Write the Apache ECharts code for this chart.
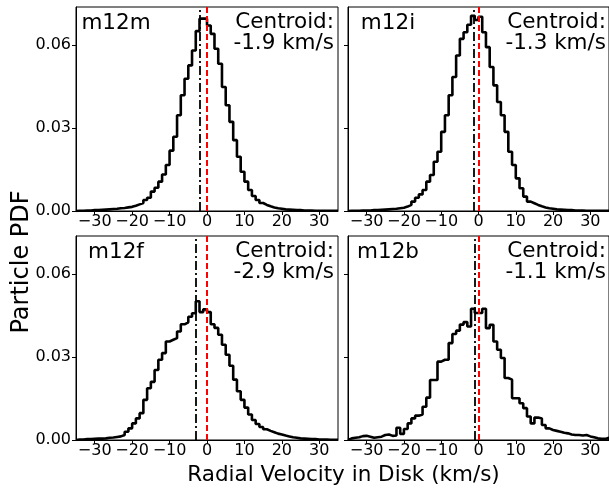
<!DOCTYPE html>
<html>
<head>
<meta charset="utf-8">
<script src="https://cdn.jsdelivr.net/npm/echarts@6/dist/echarts.min.js"></script>
<style>
html,body{margin:0;padding:0;background:#fff;}
#chart{width:609px;height:489px;}
</style>
</head>
<body>
<div id="chart"></div>
<script>
// ---------------- data ----------------
const binEdges = [-35,-34,-33,-32,-31,-30,-29,-28,-27,-26,-25,-24,-23,-22,-21,-20,-19,-18,-17,-16,-15,-14,-13,-12,-11,-10,-9,-8,-7,-6,-5,-4,-3,-2,-1,0,1,2,3,4,5,6,7,8,9,10,11,12,13,14,15,16,17,18,19,20,21,22,23,24,25,26,27,28,29,30,31,32,33,34,35];

const panelNames = ['m12m','m12i','m12f','m12b'];
const centroids = [-1.9, -1.3, -2.9, -1.1];
const xTicks = [-30,-20,-10,0,10,20,30];
const yTicks = [0, 0.03, 0.06];

const pdf_m12m = [0.0001,0.0001,0.0002,0.0002,0.0003,0.0003,0.0004,0.0005,0.0006,0.0007,0.0008,0.0010,0.0011,0.0013,0.0015,0.0019,0.0024,0.0029,0.0040,0.0048,0.0070,0.0084,0.0106,0.0132,0.0166,0.0218,0.0268,0.0346,0.0418,0.0478,0.0526,0.0580,0.0650,0.0695,0.0695,
0.0670,0.0640,0.0586,0.0532,0.0448,0.0382,0.0322,0.0256,0.0196,0.0142,0.0106,0.0076,0.0054,0.0040,0.0029,0.0022,0.0017,0.0013,0.0010,0.0008,0.0006,0.0005,0.0004,0.0003,0.0003,0.0002,0.0002,0.0002,0.0001,0.0001,0.0001,0.0001,0.0001,0.0001,0.0001];

const pdf_m12i = [0.0001,0.0001,0.0001,0.0002,0.0002,0.0002,0.0003,0.0003,0.0004,0.0005,0.0006,0.0007,0.0008,0.0010,0.0012,0.0016,0.0022,0.0034,0.0048,0.0060,0.0076,0.0106,0.0130,0.0178,0.0214,0.0286,0.0346,0.0418,0.0484,0.0562,0.0622,0.0646,0.0673,0.0705,0.0690,
0.0702,0.0646,0.0592,0.0520,0.0454,0.0394,0.0346,0.0286,0.0214,0.0166,0.0118,0.0082,0.0052,0.0034,0.0028,0.0022,0.0017,0.0013,0.0010,0.0008,0.0006,0.0005,0.0004,0.0003,0.0003,0.0002,0.0002,0.0002,0.0001,0.0001,0.0001,0.0001,0.0001,0.0001,0.0001];

const pdf_m12f = [0.0002,0.0002,0.0003,0.0003,0.0004,0.0005,0.0005,0.0006,0.0008,0.0009,0.0011,0.0013,0.0018,0.0030,0.0042,0.0060,0.0078,0.0097,0.0145,0.0187,0.0210,0.0253,0.0290,0.0314,0.0356,0.0362,0.0368,0.0392,0.0418,0.0425,0.0445,0.0458,0.0501,0.0462,0.0472,
0.0462,0.0418,0.0405,0.0380,0.0344,0.0308,0.0268,0.0218,0.0176,0.0145,0.0117,0.0092,0.0072,0.0058,0.0047,0.0039,0.0033,0.0028,0.0023,0.0020,0.0016,0.0013,0.0010,0.0008,0.0006,0.0005,0.0004,0.0003,0.0003,0.0002,0.0002,0.0002,0.0001,0.0001,0.0001];

const pdf_m12b = [0.0006,0.0008,0.0010,0.0014,0.0015,0.0012,0.0008,0.0010,0.0012,0.0018,0.0020,0.0015,0.0016,0.0044,0.0022,0.0040,0.0060,0.0078,0.0088,0.0092,0.0120,0.0153,0.0217,0.0217,0.0283,0.0290,0.0290,0.0350,0.0383,0.0395,0.0417,0.0426,0.0410,0.0474,0.0459,
0.0459,0.0474,0.0404,0.0416,0.0356,0.0326,0.0296,0.0224,0.0218,0.0151,0.0151,0.0133,0.0115,0.0085,0.0060,0.0081,0.0078,0.0054,0.0042,0.0036,0.0033,0.0030,0.0026,0.0024,0.0020,0.0018,0.0018,0.0016,0.0018,0.0013,0.0010,0.0006,0.0004,0.0004,0.0008];

const panelPdfs = [pdf_m12m, pdf_m12i, pdf_m12f, pdf_m12b];

// ---------------- layout ----------------
const FONT = 'DejaVu Sans';
const grids = [
  {left: 76,  top: 7,   width: 262, height: 204},
  {left: 348, top: 7,   width: 262, height: 204},
  {left: 76,  top: 236, width: 262, height: 204},
  {left: 348, top: 236, width: 262, height: 204}
];
const Y_MAX = 0.0737;

function stepData(vals) {
  const pts = [[binEdges[0], 0]];
  for (let i = 0; i < vals.length; i++) pts.push([binEdges[i], vals[i]]);
  pts.push([binEdges[binEdges.length - 1], vals[vals.length - 1]]);
  pts.push([binEdges[binEdges.length - 1], 0]);
  return pts;
}
const minusFmt = v => (v < 0 ? '\u2212' + Math.abs(v) : String(v));

const option = {
  animation: false,
  backgroundColor: '#fff',
  grid: grids.map(g => Object.assign({show: true, borderColor: '#000', borderWidth: 1, backgroundColor: 'transparent', containLabel: false}, g)),
  xAxis: grids.map((g, i) => ({
    type: 'value', gridIndex: i, min: -35, max: 35,
    splitLine: {show: false},
    axisLine: {show: true, onZero: false, lineStyle: {color: '#000', width: 1}},
    axisTick: {show: true, inside: false, length: 4, lineStyle: {color: '#000', width: 1}, customValues: xTicks},
    axisLabel: {show: true, customValues: xTicks, formatter: minusFmt, color: '#000', fontFamily: FONT, fontSize: 16, margin: 3}
  })),
  yAxis: grids.map((g, i) => ({
    type: 'value', gridIndex: i, min: 0, max: Y_MAX,
    splitLine: {show: false},
    axisLine: {show: true, onZero: false, lineStyle: {color: '#000', width: 1}},
    axisTick: {show: true, inside: false, length: 4, lineStyle: {color: '#000', width: 1}, customValues: yTicks},
    axisLabel: {show: i % 2 === 0, customValues: yTicks, formatter: v => v.toFixed(2), color: '#000', fontFamily: FONT, fontSize: 16, margin: 5}
  })),
  series: panelPdfs.map((vals, i) => ({
    type: 'line', xAxisIndex: i, yAxisIndex: i, name: panelNames[i],
    step: 'end', symbol: 'none', data: stepData(vals),
    lineStyle: {color: '#000', width: 2.6},
    silent: true,
    markLine: {
      silent: true, symbol: ['none', 'none'], animation: false,
      label: {show: false},
      data: [
        {xAxis: centroids[i], lineStyle: {color: '#000', width: 1.8, type: [9, 3, 2, 3]}},
        {xAxis: 0, lineStyle: {color: '#ff0000', width: 2, type: [6, 3]}}
      ]
    }
  })),
  graphic: []
};

grids.forEach((g, i) => {
  option.graphic.push({
    type: 'text', silent: true,
    style: {text: panelNames[i], x: g.left + 40, y: g.top + 5.5, align: 'center', verticalAlign: 'top',
            font: '21.5px "DejaVu Sans"', fill: '#000'}
  });
  option.graphic.push({
    type: 'text', silent: true,
    style: {text: 'Centroid:\n' + centroids[i].toFixed(1) + ' km/s', x: g.left + g.width - 4, y: g.top + 5.5,
            align: 'right', verticalAlign: 'top', lineHeight: 20.5,
            font: '21.5px "DejaVu Sans"', fill: '#000'}
  });
});
option.graphic.push({
  type: 'text', silent: true,
  style: {text: 'Radial Velocity in Disk (km/s)', x: 343.5, y: 475.6, align: 'center', verticalAlign: 'middle',
          font: '21.5px "DejaVu Sans"', fill: '#000'}
});
option.graphic.push({
  type: 'text', silent: true, x: 21.5, y: 262, rotation: Math.PI / 2,
  style: {text: 'Particle PDF', x: 0, y: 0, align: 'center', verticalAlign: 'middle',
          font: '24px "DejaVu Sans"', fill: '#000'}
});

const chart = echarts.init(document.getElementById('chart'), null, {renderer: 'canvas'});
chart.setOption(option);
</script>
</body>
</html>
